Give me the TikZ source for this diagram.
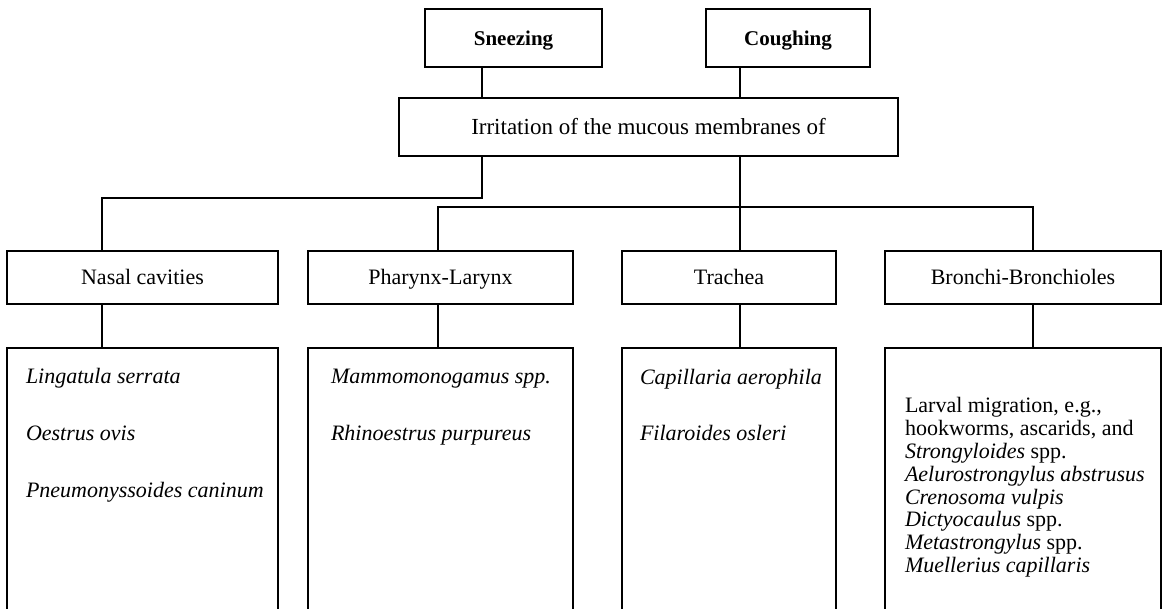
\documentclass[tikz,border=0pt]{standalone}
\usepackage{fontspec}
\setmainfont{Liberation Serif}
\begin{document}
\begin{tikzpicture}[x=1pt,y=-1pt,line width=1.2pt,
  box/.style={draw,rectangle,inner sep=0pt,outer sep=0pt,anchor=north west},
  topbox/.style={box,minimum height=58pt,text height=14.5pt,text depth=0pt,font=\fontsize{21}{24}\selectfont\bfseries},
  midbox/.style={box,minimum height=53pt,text height=15pt,text depth=0pt,font=\fontsize{22}{25}\selectfont},
  lowbox/.style={box,minimum height=280pt},
  txt/.style={inner sep=0pt,outer sep=0pt,anchor=base west}]
\useasboundingbox (0,0) rectangle (1162,609);
\clip (0,0) rectangle (1162,609);
% columns and levels of the connectors
\coordinate (cA) at (482,0);
\coordinate (cB) at (740,0);
\coordinate (cN) at (102,0);
\coordinate (cP) at (438,0);
\coordinate (cR) at (1033,0);
\coordinate (j1) at (0,198);
\coordinate (j2) at (0,207);
% top
\node[topbox,minimum width=177pt] (sneeze) at (425,9) {Sneezing};
\node[topbox,minimum width=164pt] (cough) at (706,9) {Coughing};
\node[box,minimum width=499pt,minimum height=58pt,text height=15.5pt,text depth=0pt,font=\fontsize{23}{26}\selectfont] (irr) at (399,98) {Irritation of the mucous membranes of};
% middle
\node[midbox,minimum width=271pt] (nasal) at (7,251) {Nasal cavities};
\node[midbox,minimum width=265pt] (phar) at (308,251) {Pharynx-Larynx};
\node[midbox,minimum width=214pt] (trach) at (622,251) {Trachea};
\node[midbox,minimum width=276pt] (bron) at (885,251) {Bronchi-Bronchioles};
% bottom
\node[lowbox,minimum width=271pt] (nasalB) at (7,348) {};
\node[lowbox,minimum width=265pt] (pharB) at (308,348) {};
\node[lowbox,minimum width=214pt] (trachB) at (622,348) {};
\node[lowbox,minimum width=276pt] (bronB) at (885,348) {};
% texts of the bottom boxes
\node[txt] (nasalT) at (26,384) {\fontsize{22}{57}\selectfont\begin{tabular}[t]{@{}l@{}}\itshape Lingatula serrata\\ \itshape Oestrus ovis\\ \itshape Pneumonyssoides caninum\end{tabular}};
\node[txt] (pharT) at (331,384) {\fontsize{22}{57}\selectfont\begin{tabular}[t]{@{}l@{}}\itshape Mammomonogamus spp.\\ \itshape Rhinoestrus purpureus\end{tabular}};
\node[txt] (trachT) at (640,385) {\fontsize{22}{55}\selectfont\begin{tabular}[t]{@{}l@{}}\itshape Capillaria aerophila\\ \itshape Filaroides osleri\end{tabular}};
\node[txt] (bronT) at (905,413) {\fontsize{22}{22.8}\selectfont\begin{tabular}[t]{@{}l@{}}Larval migration, e.g.,\\ hookworms, ascarids, and\\ \textit{Strongyloides} spp.\\ \itshape Aelurostrongylus abstrusus\\ \itshape Crenosoma vulpis\\ \textit{Dictyocaulus} spp.\\ \textit{Metastrongylus} spp.\\ \itshape Muellerius capillaris\end{tabular}};
% connectors
\draw (sneeze.south -| cA) -- (irr.north -| cA);
\draw (cough.south -| cB) -- (irr.north -| cB);
\draw (irr.south -| cA) -- (cA |- j1) -- (cN |- j1) -- (nasal.north -| cN);
\draw (irr.south -| cB) -- (trach.north -| cB);
\draw (phar.north -| cP) -- (cP |- j2) -- (cR |- j2) -- (bron.north -| cR);
\draw (nasal.south -| cN) -- (nasalB.north -| cN);
\draw (phar.south -| cP) -- (pharB.north -| cP);
\draw (trach.south -| cB) -- (trachB.north -| cB);
\draw (bron.south -| cR) -- (bronB.north -| cR);
\end{tikzpicture}
\end{document}
